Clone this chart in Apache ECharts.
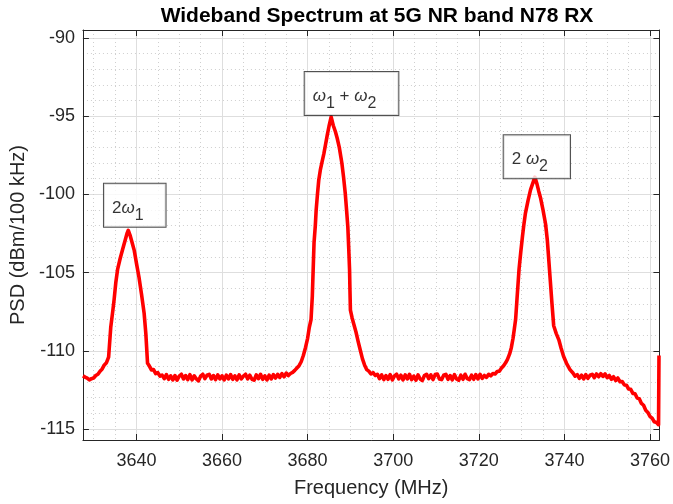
<!DOCTYPE html>
<html>
<head>
<meta charset="utf-8">
<script src="https://cdn.jsdelivr.net/npm/echarts@6/dist/echarts.min.js"></script>
<style>
  html, body { margin: 0; padding: 0; background: #fff; }
  #chart { width: 673px; height: 504px; }
</style>
</head>
<body>
<div id="chart"></div>
<script>
// spectrum trace (MHz, dBm/100 kHz)
var freqMHz = [
  3627.5, 3628.0, 3628.5, 3629.0, 3629.5, 3630.0, 3630.5, 3631.0, 3631.5, 3632.0,
  3632.5, 3633.0, 3633.5, 3634.0, 3634.5, 3634.8, 3635.2, 3635.6, 3636.2, 3636.8,
  3637.4, 3637.8, 3638.1, 3638.5, 3639.0, 3639.5, 3640.0, 3640.6, 3641.2, 3641.8,
  3642.2, 3642.6, 3643.0, 3643.5, 3644.0, 3644.5, 3645.0, 3645.5,
  3646.0, 3646.5, 3647.0, 3647.5, 3648.0, 3648.5, 3649.0, 3649.5, 3650.0, 3650.5,
  3651.0, 3651.5, 3652.0, 3652.5, 3653.0, 3653.5, 3654.0, 3654.5, 3655.0, 3655.5,
  3656.0, 3656.5, 3657.0, 3657.5, 3658.0, 3658.5, 3659.0, 3659.5, 3660.0, 3660.5,
  3661.0, 3661.5, 3662.0, 3662.5, 3663.0, 3663.5, 3664.0, 3664.5, 3665.0, 3665.5,
  3666.0, 3666.5, 3667.0, 3667.5, 3668.0, 3668.5, 3669.0, 3669.5, 3670.0, 3670.5,
  3671.0, 3671.5, 3672.0, 3672.5, 3673.0, 3673.5, 3674.0, 3674.5, 3675.0, 3675.5,
  3676.0, 3676.5, 3677.0, 3677.5, 3678.0, 3678.5, 3679.0, 3679.5, 3680.0, 3680.4,
  3680.8, 3681.1, 3681.3, 3681.5, 3681.8, 3682.0, 3682.3, 3682.6, 3683.0, 3683.4,
  3683.8, 3684.2, 3684.6, 3685.0, 3685.5, 3686.0, 3686.5, 3686.9, 3687.4, 3688.0,
  3688.4, 3688.8, 3689.1, 3689.4, 3689.6, 3689.8, 3689.9, 3690.0, 3690.4, 3690.8,
  3691.3, 3691.8, 3692.3, 3692.8, 3693.3, 3693.8, 3694.3, 3694.8, 3695.3, 3695.8,
  3696.3, 3696.8, 3697.3, 3697.8, 3698.3, 3698.8, 3699.3, 3699.8, 3700.3, 3700.8,
  3701.3, 3701.8, 3702.3, 3702.8, 3703.3, 3703.8, 3704.3, 3704.8, 3705.3, 3705.8,
  3706.3, 3706.8, 3707.3, 3707.8, 3708.3, 3708.8, 3709.3, 3709.8, 3710.3, 3710.8,
  3711.3, 3711.8, 3712.3, 3712.8, 3713.3, 3713.8, 3714.3, 3714.8, 3715.3, 3715.8,
  3716.3, 3716.8, 3717.3, 3717.8, 3718.3, 3718.8, 3719.3, 3719.8, 3720.3, 3720.8,
  3721.3, 3721.8, 3722.3, 3722.8, 3723.3, 3723.8, 3724.3, 3724.8, 3725.3, 3725.8,
  3726.3, 3726.7, 3727.2, 3727.6, 3728.0, 3728.3, 3728.6, 3728.9, 3729.2, 3729.4,
  3729.8, 3730.2, 3730.5, 3730.9, 3731.5, 3732.1, 3732.6, 3733.1, 3733.6, 3734.0,
  3734.4, 3735.0, 3735.6, 3736.0, 3736.3, 3736.7, 3737.1, 3737.5, 3738.1, 3738.7,
  3739.2, 3739.8, 3740.5, 3741.3, 3742.0, 3742.5, 3743.0, 3743.5, 3744.0, 3744.5,
  3745.0, 3745.5, 3746.0, 3746.5, 3747.0, 3747.5, 3748.0, 3748.5, 3749.0, 3749.5,
  3750.0, 3750.5, 3751.0, 3751.5, 3752.0, 3752.5, 3753.0, 3753.5, 3754.0, 3754.5,
  3755.0, 3755.5, 3756.0, 3756.5, 3757.0, 3757.5, 3758.0, 3758.5, 3759.0, 3759.5,
  3760.0, 3760.5, 3761.0, 3761.5, 3762.0, 3762.1
];
var psdDbm = [
  -111.60, -111.68, -111.75, -111.86, -111.78, -111.74, -111.58, -111.50, -111.30, -111.16,
  -110.90, -110.76, -110.40, -108.50, -107.40, -106.70, -105.60, -104.80, -104.10, -103.50,
  -102.90, -102.50, -102.30, -102.60, -103.10, -103.60, -104.40, -105.30, -106.40, -107.60,
  -108.90, -110.80, -110.96, -111.22, -111.20, -111.46, -111.40, -111.62,
  -111.55, -111.78, -111.52, -111.82, -111.60, -111.86, -111.58, -111.88, -111.62, -111.50,
  -111.80, -111.58, -111.84, -111.52, -111.86, -111.60, -111.80, -111.92, -111.62, -111.50,
  -111.78, -111.56, -111.50, -111.80, -111.58, -111.84, -111.54, -111.80, -111.60, -111.86,
  -111.56, -111.80, -111.52, -111.82, -111.60, -111.86, -111.54, -111.80, -111.62, -111.50,
  -111.80, -111.56, -111.82, -111.88, -111.54, -111.78, -111.50, -111.82, -111.60, -111.86,
  -111.56, -111.80, -111.52, -111.74, -111.50, -111.70, -111.46, -111.66, -111.42, -111.58,
  -111.45, -111.38, -111.25, -111.10, -110.95, -110.70, -110.30, -109.80, -109.20, -108.50,
  -108.00, -106.50, -104.80, -103.10, -102.00, -101.00, -100.00, -99.10, -98.40, -97.90,
  -97.40, -96.80, -96.20, -95.65, -95.05, -95.60, -96.00, -96.40, -97.00, -98.00,
  -98.90, -99.95, -101.00, -102.10, -103.40, -104.80, -106.20, -107.40, -107.90, -108.30,
  -108.80, -109.40, -109.95, -110.50, -110.90, -111.20, -111.30, -111.48, -111.40, -111.58,
  -111.50, -111.78, -111.54, -111.84, -111.58, -111.82, -111.52, -111.86, -111.60, -111.50,
  -111.80, -111.56, -111.86, -111.54, -111.80, -111.50, -111.84, -111.62, -111.88, -111.54,
  -111.80, -111.90, -111.58, -111.50, -111.78, -111.54, -111.84, -111.52, -111.48, -111.80,
  -111.84, -111.56, -111.50, -111.82, -111.58, -111.86, -111.52, -111.80, -111.88, -111.56,
  -111.82, -111.50, -111.78, -111.84, -111.56, -111.82, -111.52, -111.80, -111.50, -111.76,
  -111.58, -111.70, -111.50, -111.60, -111.45, -111.48, -111.32, -111.30, -111.10, -110.95,
  -110.75, -110.55, -110.20, -109.80, -109.20, -108.60, -108.00, -106.80, -105.60, -104.80,
  -103.70, -102.70, -102.00, -101.20, -100.40, -99.70, -99.30, -98.90, -99.35, -99.80,
  -100.20, -101.00, -101.90, -102.90, -104.00, -105.50, -107.00, -108.40, -108.90, -109.30,
  -109.80, -110.35, -110.80, -111.20, -111.42, -111.62, -111.52, -111.76, -111.56, -111.80,
  -111.52, -111.76, -111.56, -111.50, -111.72, -111.48, -111.66, -111.46, -111.64, -111.48,
  -111.72, -111.58, -111.82, -111.66, -111.90, -111.74, -111.98, -111.96, -112.18, -112.20,
  -112.44, -112.46, -112.72, -112.74, -113.02, -113.06, -113.36, -113.48, -113.80, -113.94,
  -114.20, -114.30, -114.54, -114.58, -114.72, -110.30
];

// annotation boxes: left edge / vertical middle in data units
var noteFreq = [3632.3, 3679.2, 3725.7];
var notePsd = [-100.7, -93.55, -97.6];
var noteText = [
  '{m|2}{w|ω}{s|1}',
  '{w|ω}{s|1}{m| + }{w|ω}{s|2}',
  '{m|2 }{w|ω}{s|2}'
];

var xMin = 3627.5, xMax = 3762.2;
var yMin = -115.7, yMax = -89.5;

var FONT = 'Liberation Sans, Arial, Helvetica, sans-serif';
var AXIS_COLOR = '#262626';

var chart = echarts.init(document.getElementById('chart'));

var trace = freqMHz.map(function (f, i) { return [f, psdDbm[i]]; });
var notes = noteFreq.map(function (f, i) { return [f, notePsd[i], i]; });

function frameAxis(pos, min, max) {
  return {
    type: 'value',
    position: pos,
    min: min,
    max: max,
    splitNumber: pos === 'top' ? 7 : 5,
    axisLine: { show: true, lineStyle: { color: AXIS_COLOR, width: 1 } },
    axisTick: { show: true, inside: true, length: 6, lineStyle: { color: AXIS_COLOR } },
    axisLabel: { show: false },
    splitLine: { show: false }
  };
}

var option = {
  animation: false,
  backgroundColor: '#fff',
  title: {
    text: 'Wideband Spectrum at 5G NR band N78 RX',
    left: 372,
    textAlign: 'center',
    top: 1,
    textStyle: { fontFamily: FONT, fontSize: 21, fontWeight: 'bold', color: '#000' }
  },
  grid: { left: 82, right: 10, top: 30, bottom: 64, containLabel: false },
  xAxis: [{
    type: 'value',
    min: xMin,
    max: xMax,
    splitNumber: 7,
    name: 'Frequency (MHz)',
    nameLocation: 'middle',
    nameGap: 38,
    nameTextStyle: { fontFamily: FONT, fontSize: 20, color: AXIS_COLOR },
    axisLine: { show: true, lineStyle: { color: AXIS_COLOR, width: 1 } },
    axisTick: { show: true, inside: true, length: 6, lineStyle: { color: AXIS_COLOR } },
    axisLabel: {
      fontFamily: FONT, fontSize: 18, color: AXIS_COLOR, margin: 12,
      showMinLabel: false, showMaxLabel: false,
      formatter: function (v) { return String(v); }
    },
    splitLine: { show: true, lineStyle: { color: '#dedede', width: 1 } },
    minorTick: { show: false, splitNumber: 4 },
    minorSplitLine: { show: true, lineStyle: { color: '#cfcfcf', width: 1, type: [1, 3] } }
  }, frameAxis('top', xMin, xMax)],
  yAxis: [{
    type: 'value',
    min: yMin,
    max: yMax,
    splitNumber: 5,
    name: 'PSD (dBm/100 kHz)',
    nameLocation: 'middle',
    nameGap: 50,
    nameTextStyle: { fontFamily: FONT, fontSize: 20, color: AXIS_COLOR },
    axisLine: { show: true, lineStyle: { color: AXIS_COLOR, width: 1 } },
    axisTick: { show: true, inside: true, length: 6, lineStyle: { color: AXIS_COLOR } },
    axisLabel: {
      fontFamily: FONT, fontSize: 18, color: AXIS_COLOR, margin: 8,
      showMinLabel: false, showMaxLabel: false,
      formatter: function (v) { return String(v); }
    },
    splitLine: { show: true, lineStyle: { color: '#dedede', width: 1 } },
    minorTick: { show: false, splitNumber: 5 },
    minorSplitLine: { show: true, lineStyle: { color: '#cfcfcf', width: 1, type: [1, 3] } }
  }, frameAxis('right', yMin, yMax)],
  series: [{
    type: 'line',
    data: trace,
    showSymbol: false,
    symbol: 'none',
    lineStyle: { color: '#ff0000', width: 3.6, join: 'round' },
    z: 3
  }, {
    type: 'scatter',
    data: notes,
    symbolSize: 1,
    itemStyle: { color: 'rgba(0,0,0,0)' },
    z: 4,
    label: {
      show: true,
      position: 'right',
      distance: 0,
      formatter: function (p) { return noteText[p.data[2]]; },
      backgroundColor: '#fff',
      borderColor: '#262626',
      borderWidth: 1,
      padding: [14, 22, 8, 8],
      rich: {
        m: { fontFamily: FONT, fontSize: 17, color: '#000', lineHeight: 21 },
        w: { fontFamily: FONT, fontSize: 17, fontStyle: 'italic', color: '#000', lineHeight: 21 },
        s: { fontFamily: FONT, fontSize: 16, color: '#000', lineHeight: 21, padding: [14, 0, 0, 0] }
      }
    }
  }]
};

chart.setOption(option);
</script>
</body>
</html>
